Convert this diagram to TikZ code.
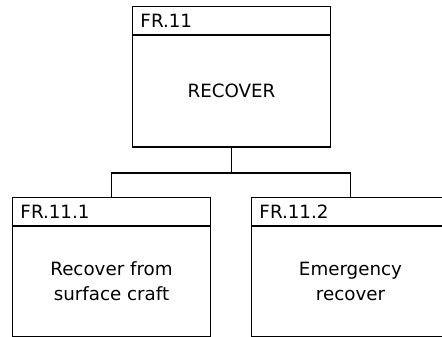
\documentclass[tikz,border=0pt]{standalone}
\usepackage{fontspec}
\setmainfont{DejaVu Sans}
\usetikzlibrary{positioning}
\tikzset{head/.style={draw,line width=0.7pt,anchor=north west,minimum height=7mm,
 text width=45.5mm,inner xsep=2mm,inner ysep=0.5mm,align=left,font=\fontsize{13}{17}\selectfont},
 body/.style={draw,line width=0.7pt,anchor=north west,minimum width=49.5mm,
 minimum height=27.5mm,align=center,font=\fontsize{13}{17.5}\selectfont},
 base/.style={line width=2pt},
 conn/.style={line width=0.8pt,draw=black}}

\begin{document}
\begin{tikzpicture}
\path[use as bounding box,clip] (0,0) rectangle (11.05,8.425);
\fill[white] (0,0) rectangle (11.05,8.425);
% top function
\node[head] (h11) at (3.3,8.275) {FR.11};
\node[body,minimum height=27.75mm] (b11) at (h11.south west) {RECOVER};
\draw[base] (b11.south west)--(b11.south east);
% sub functions
\node[head] (h111) at (0.3,3.5) {FR.11.1};
\node[body] (b111) at (h111.south west) {Recover from\\surface craft};
\draw[base] (b111.south west)--(b111.south east);
\node[head] (h112) at (6.275,3.5) {FR.11.2};
\node[body] (b112) at (h112.south west) {Emergency\\recover};
\draw[base] (b112.south west)--(b112.south east);
% tree lines
\coordinate (bus) at ([yshift=-6.5mm]b11.south);
\draw[conn] (b11.south)--(bus);
\draw[conn] (bus)-|(h111.north);
\draw[conn] (bus)-|(h112.north);
\end{tikzpicture}
\end{document}
